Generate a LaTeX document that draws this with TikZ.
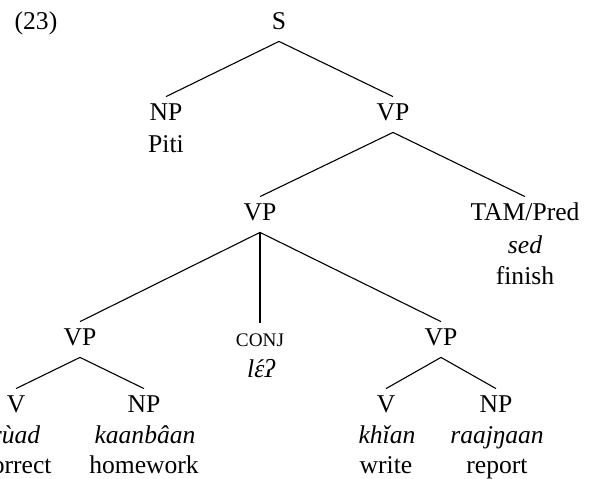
\documentclass[tikz,border=0pt]{standalone}
\usepackage{fontspec}
\setmainfont{Liberation Serif}
\begin{document}
\begin{tikzpicture}[
  x=0.5pt, y=-0.5pt,
  font=\fontsize{12.8}{15.5}\selectfont,
  cat/.style={anchor=base, inner sep=3pt, text height=8.5pt, text depth=3pt},
  word/.style={anchor=base, inner sep=0pt},
  gloss/.style={word, font=\fontsize{12.8}{15.5}\selectfont\itshape},
  branch/.style={line width=0.55pt},
  smallcap/.style={font=\fontsize{9.6}{11}\selectfont}
]
\useasboundingbox (0,0) rectangle (595,478);

% example number
\node[word] (exnum) at (36,29) {(23)};

% clause level
\node[cat] (s)   at (279,29)  {S};
\node[cat] (np1) at (166,120) {NP};
\node[word] (piti) at (166,152) {Piti};
\node[cat] (vp1) at (393,120) {VP};

% main predicate and aspect marker
\node[cat] (vp2) at (260,220) {VP};
\node[cat] (tam) at (525,220) {TAM/Pred};
\node[gloss] (sed) at (525,253) {sed};
\node[word] (finish) at (525,284) {finish};

% coordinated VPs
\node[cat] (vp3)  at (80,345)  {VP};
\node[cat, smallcap] (conj) at (260,346) {CONJ};
\node[gloss] (le) at (261,377) {l\accent"00B4 ɛʔ};
\node[cat] (vp4)  at (441,345) {VP};

% first conjunct
\node[cat] (v1)  at (16,412)  {V};
\node[gloss] (ruad) at (16,443) {rùad};
\node[word] (correct) at (16,473) {correct};
\node[cat] (np2) at (144,412) {NP};
\node[gloss] (kaanbaan) at (145,443) {kaanbâan};
\node[word] (homework) at (144,473) {homework};

% second conjunct
\node[cat] (v2)  at (386,412) {V};
\node[gloss] (khian) at (387,443) {khǐan};
\node[word] (write) at (386,473) {write};
\node[cat] (np3) at (496,412) {NP};
\node[gloss] (raajngaan) at (497,443) {raajŋaan};
\node[word] (report) at (497,473) {report};

% branches
\draw[branch] (s.south) -- (np1.north);
\draw[branch] (s.south) -- (vp1.north);
\draw[branch] (vp1.south) -- (vp2.north);
\draw[branch] (vp1.south) -- (tam.north);
\draw[branch] (vp2.south) -- (vp3.north);
\draw[branch] (vp2.south) -- (conj.north);
\draw[branch] (vp2.south) -- (vp4.north);
\draw[branch] (vp3.south) -- (v1.north);
\draw[branch] (vp3.south) -- (np2.north);
\draw[branch] (vp4.south) -- (v2.north);
\draw[branch] (vp4.south) -- (np3.north);
\end{tikzpicture}
\end{document}
